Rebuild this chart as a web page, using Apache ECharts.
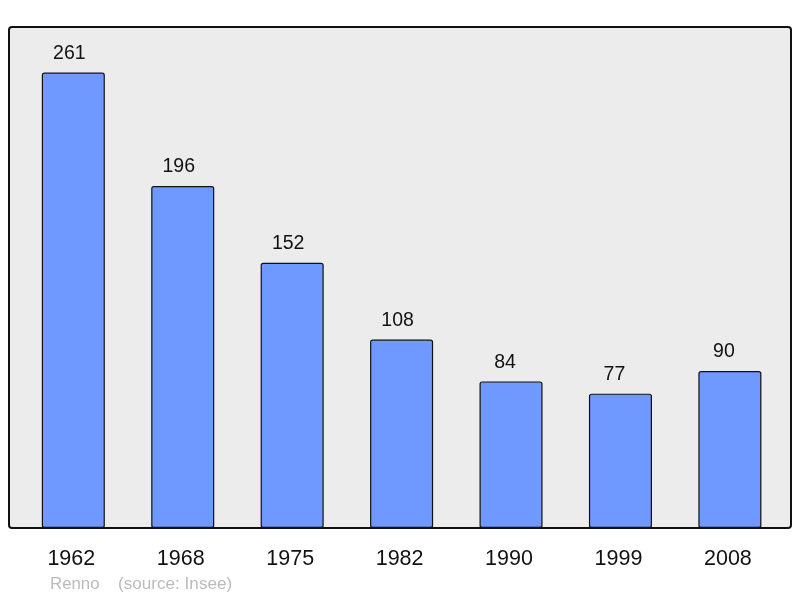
<!DOCTYPE html>
<html>
<head>
<meta charset="utf-8">
<script src="https://cdn.jsdelivr.net/npm/echarts@6/dist/echarts.min.js"></script>
<style>html,body{margin:0;padding:0;background:#fff;}#c{width:800px;height:598px;}</style>
</head>
<body>
<div id="c"></div>
<script>
const years = ['1962', '1968', '1975', '1982', '1990', '1999', '2008'];
const population = [261, 196, 152, 108, 84, 77, 90];
const footerName = 'Renno';
const footerSource = '(source: Insee)';

const chart = echarts.init(document.getElementById('c'), null, {renderer: 'canvas'});
const FONT = '"Liberation Sans", Arial, sans-serif';
const barData = population.map(v => ({
  value: v,
  label: {offset: [String(v).length >= 3 ? -4 : -6, 0]}
}));
chart.setOption({
  animation: false,
  backgroundColor: '#ffffff',
  graphic: [
    {type: 'rect', z: -10, shape: {x: 9, y: 27, width: 782, height: 501, r: 3},
     style: {fill: '#ececec', stroke: '#111', lineWidth: 2}},
    {type: 'text', left: 50, top: 577, scaleX: 1.05, style: {text: footerName, fill: '#bbbbbb', font: '16px ' + FONT}},
    {type: 'text', left: 118, top: 577, scaleX: 1.07, style: {text: footerSource, fill: '#bbbbbb', font: '16px ' + FONT}}
  ],
  grid: {left: 18.6, right: 15.4, top: 27, bottom: 70, containLabel: false},
  xAxis: {
    type: 'category', data: years,
    axisLine: {show: false}, axisTick: {show: false},
    axisLabel: {color: '#111', fontSize: 21.5, fontFamily: FONT, margin: 20, padding: [0, 4, 0, 0]}
  },
  yAxis: {
    type: 'value', min: 0, max: 287.1,
    show: false, splitLine: {show: false}
  },
  series: [{
    type: 'bar', data: barData, barWidth: '57.6%',
    itemStyle: {color: '#7099ff', borderColor: '#111', borderWidth: 1.2, borderRadius: 2},
    label: {show: true, position: 'top', distance: 9, color: '#111', fontSize: 19.5, fontFamily: FONT}
  }]
});
</script>
</body>
</html>
